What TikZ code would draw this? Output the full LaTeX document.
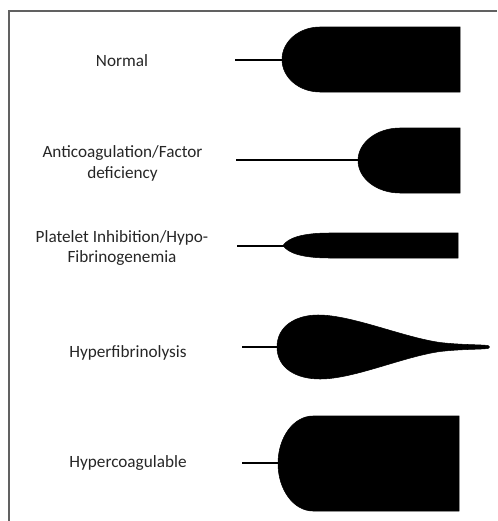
\documentclass[tikz,border=0pt]{standalone}
\usepackage{fontspec}
\setmainfont{Carlito}
\begin{document}
\begin{tikzpicture}[x=0.75pt,y=-0.75pt,
  lab/.style={anchor=base,inner sep=0pt,font=\fontsize{12.9pt}{15.5pt}\selectfont,text=black!85},
  stem/.style={line width=1.5pt,black},
  blob/.style={fill=black,draw=black,line width=0.4pt},
  frame/.style={draw=black!62,line width=1.2pt}]
\useasboundingbox (0,0) rectangle (497,521);
\draw[frame] (497,11) -- (9,11) -- (9,521);
% labels
\node[lab] (l1) at (122,66) {Normal};
\node[lab] (l2a) at (122.5,157) {Anticoagulation/Factor};
\node[lab] (l2b) at (122.5,178) {deficiency};
\node[lab] (l3a) at (122,242) {Platelet Inhibition/Hypo-};
\node[lab] (l3b) at (122,262) {Fibrinogenemia};
\node[lab] (l4) at (128,357) {Hyperfibrinolysis};
\node[lab] (l5) at (128,467) {Hypercoagulable};
% stems coordinates
\coordinate (s1a) at (235,60);  \coordinate (s1b) at (283,60);
\coordinate (s2a) at (236,160); \coordinate (s2b) at (359,160);
\coordinate (s3a) at (237,246); \coordinate (s3b) at (284,246);
\coordinate (s4a) at (242,347); \coordinate (s4b) at (278,347);
\coordinate (s5a) at (242,463); \coordinate (s5b) at (279,463);
\draw[stem] (s1a) -- (s1b);
\draw[stem] (s2a) -- (s2b);
\draw[stem] (s3a) -- (s3b);
\draw[stem] (s4a) -- (s4b);
\draw[stem] (s5a) -- (s5b);
% Normal
\path[blob] (460,27) -- (320,27) .. controls (299,27) and (282,41.55) .. (282,59.5)
  .. controls (282,77.45) and (299,92) .. (320,92) -- (460,92) -- cycle;
% Anticoagulation
\path[blob] (460,128) -- (400,128) .. controls (376.8,128) and (358,142.55) .. (358,160.5)
  .. controls (358,178.45) and (376.8,193) .. (400,193) -- (460,193) -- cycle;
% Platelet inhibition
\path[blob] (458,233) -- (330,233) .. controls (302,233) and (288,238) .. (283,245.5)
  .. controls (288,253) and (302,258) .. (330,258) -- (458,258) -- cycle;
% Hyperfibrinolysis
\path[blob] (277,347) .. controls (277,326) and (296,315) .. (318,315)
  .. controls (352,315) and (402,337) .. (440,342.5)
  .. controls (462,345) and (480,344.5) .. (488,345.5)
  .. controls (490,346) and (490,348) .. (488,348.5)
  .. controls (480,349.5) and (462,349) .. (440,351.5)
  .. controls (402,357) and (354,379) .. (320,379)
  .. controls (296,379) and (277,368) .. (277,347) -- cycle;
% Hypercoagulable
\path[blob] (459,416) -- (313,416) .. controls (293.7,416) and (278,437.3) .. (278,463.5)
  .. controls (278,489.7) and (293.7,511) .. (313,511) -- (459,511) -- cycle;
\end{tikzpicture}
\end{document}
